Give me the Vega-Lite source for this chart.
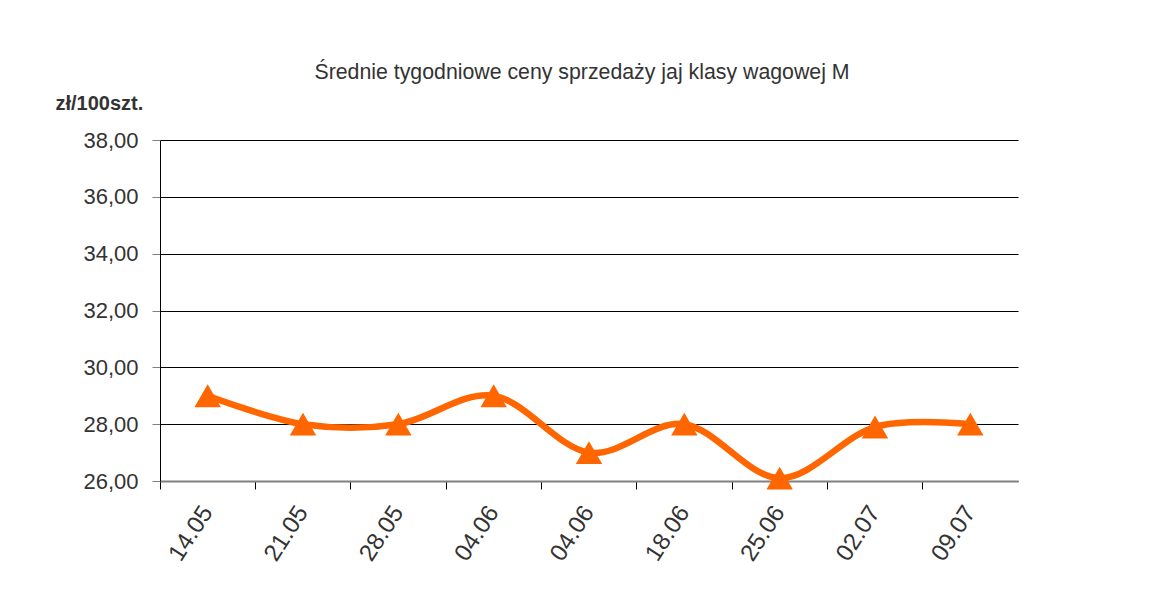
{
  "$schema": "https://vega.github.io/schema/vega-lite/v6.json",
  "width": 858,
  "height": 341,
  "autosize": "none",
  "padding": {"left": 160, "top": 140, "right": 131, "bottom": 135},
  "background": "white",
  "title": {
    "text": "Średnie tygodniowe ceny sprzedaży jaj klasy wagowej M",
    "font": "Liberation Sans",
    "fontSize": 21.3,
    "fontWeight": "normal",
    "color": "#333333",
    "anchor": "middle",
    "frame": "group",
    "offset": 10,
    "dx": -7
  },
  "data": {
    "values": [
      {"week": "14.05", "price": 29.0},
      {"week": "21.05", "price": 28.0},
      {"week": "28.05", "price": 28.0},
      {"week": "04.06", "price": 29.0},
      {"week": "04.06 ", "price": 27.0},
      {"week": "18.06", "price": 28.0},
      {"week": "25.06", "price": 26.1},
      {"week": "02.07", "price": 27.9},
      {"week": "09.07", "price": 28.0}
    ]
  },
  "config": {
    "view": {"stroke": null},
    "axis": {"labelFont": "Liberation Sans", "titleFont": "Liberation Sans"}
  },
  "layer": [
    {
      "mark": {"type": "line", "interpolate": "cardinal", "color": "#FF6600", "strokeWidth": 6.5},
      "encoding": {
        "x": {
          "field": "week", "type": "ordinal", "sort": null,
          "scale": {"type": "band", "paddingInner": 0, "paddingOuter": 0},
          "axis": {
            "orient": "bottom", "title": null, "labels": false, "bandPosition": 0,
            "ticks": true, "tickSize": 8, "tickColor": "#000000", "tickWidth": 1,
            "domain": true, "domainColor": "#808080", "domainWidth": 2, "grid": false
          }
        },
        "y": {
          "field": "price", "type": "quantitative",
          "scale": {"domain": [26, 38], "nice": false, "zero": false},
          "axis": {
            "values": [26, 28, 30, 32, 34, 36, 38],
            "labelExpr": "replace(format(datum.value, '.2f'), '.', ',')",
            "labelFontSize": 22, "labelColor": "#333333", "labelPadding": 14,
            "tickSize": 8, "tickColor": "#808080", "tickWidth": 1,
            "domain": true, "domainColor": "#000000", "domainWidth": 1,
            "grid": true, "gridColor": "#000000", "gridWidth": 1,
            "title": "zł/100szt.", "titleAngle": 0, "titleAlign": "left", "titleBaseline": "middle",
            "titleX": -105, "titleY": -37, "titleFontSize": 20, "titleFontWeight": "bold", "titleColor": "#333333"
          }
        }
      }
    },
    {
      "mark": {"type": "point", "shape": "triangle-up", "filled": true, "opacity": 1, "color": "#FF6600", "size": 700},
      "encoding": {
        "x": {
          "field": "week", "type": "ordinal", "sort": null,
          "axis": {
            "orient": "bottom", "title": null, "ticks": false, "domain": false, "grid": false,
            "labelAngle": -57, "labelAlign": "right", "labelBaseline": "middle",
            "labelFontSize": 24, "labelColor": "#333333", "labelPadding": 27
          }
        },
        "y": {"field": "price", "type": "quantitative"}
      }
    }
  ],
  "resolve": {"axis": {"x": "independent"}}
}
